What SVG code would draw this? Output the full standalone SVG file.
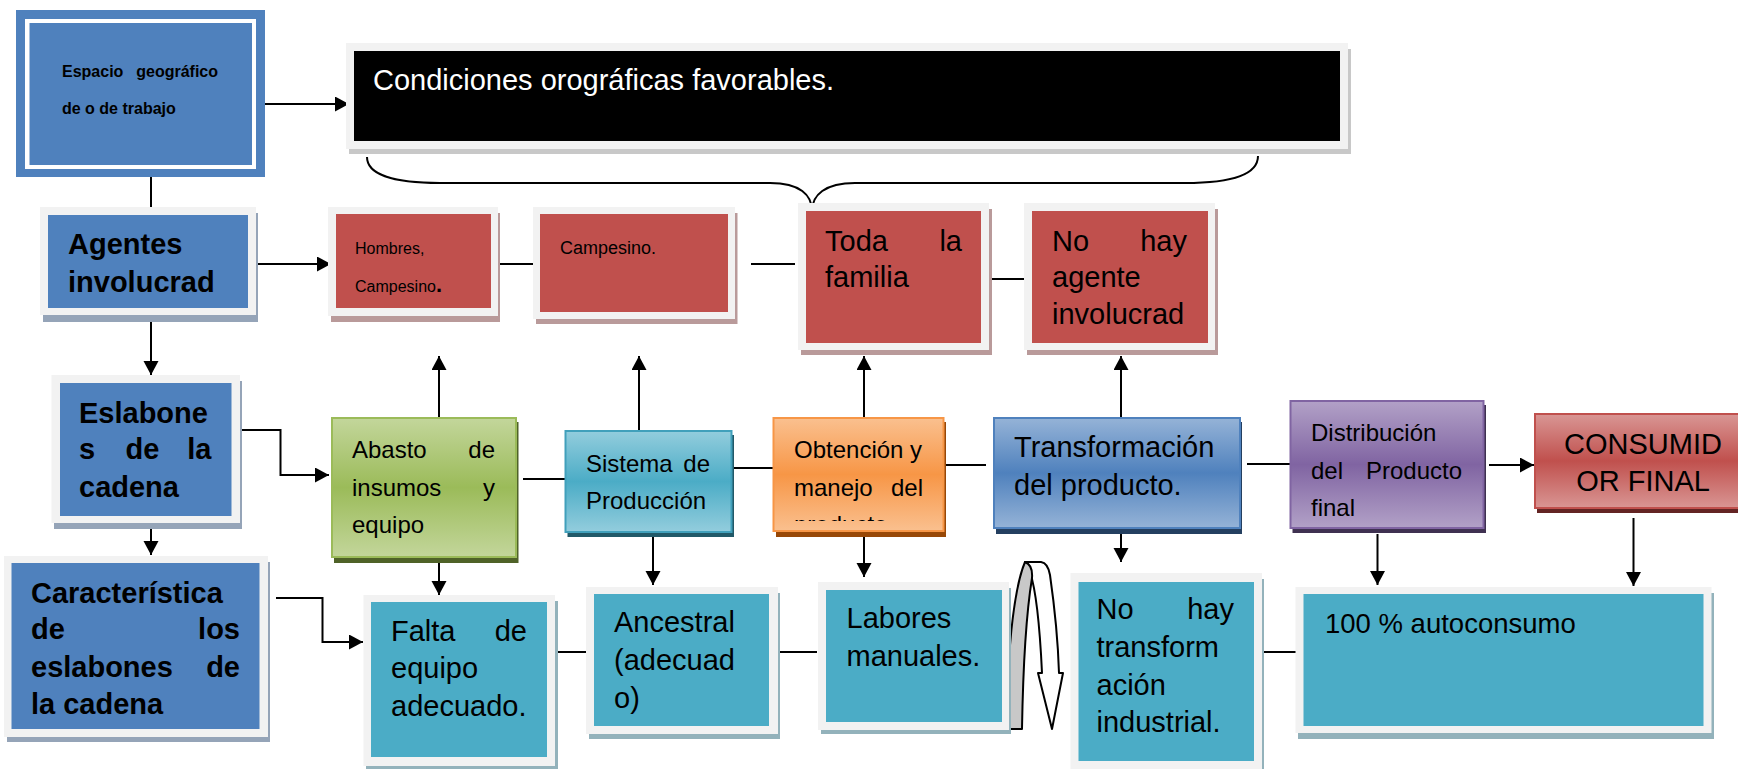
<svg xmlns="http://www.w3.org/2000/svg" width="1738" height="769" viewBox="0 0 1738 769">
<style>
.t{font-family:"Liberation Sans",Arial,sans-serif;fill:#000}
.b{font-weight:bold}
.s29{font-size:29px}
.s24{font-size:24px}
.fr{fill:#f2f2f2}
.shR{fill:#b99a9a}
.shB{fill:#95a4b8}
.shT{fill:#93b2bb}
.red{fill:#c0504d}
.blu{fill:#4f81bd}
.teal{fill:#4bacc6}
.ln{stroke:#000;stroke-width:2;fill:none}
.arr{marker-end:url(#ah)}
.end{text-anchor:end}
</style>
<defs>
<marker id="ah" markerUnits="userSpaceOnUse" markerWidth="16" markerHeight="16" refX="14" refY="7.5" orient="auto"><path d="M0,0 L14,7.5 L0,15 Z" fill="#000"/></marker>
<linearGradient id="gG" x1="0" y1="0" x2="0" y2="1"><stop offset="0" stop-color="#c3d69b"/><stop offset="0.5" stop-color="#9bbb59"/><stop offset="1" stop-color="#c3d69b"/></linearGradient>
<linearGradient id="gT" x1="0" y1="0" x2="0" y2="1"><stop offset="0" stop-color="#93cddd"/><stop offset="0.5" stop-color="#4bacc6"/><stop offset="1" stop-color="#93cddd"/></linearGradient>
<linearGradient id="gO" x1="0" y1="0" x2="0" y2="1"><stop offset="0" stop-color="#fac08f"/><stop offset="0.5" stop-color="#f79646"/><stop offset="1" stop-color="#fac08f"/></linearGradient>
<linearGradient id="gB" x1="0" y1="0" x2="0" y2="1"><stop offset="0" stop-color="#95b3d7"/><stop offset="0.5" stop-color="#4f81bd"/><stop offset="1" stop-color="#95b3d7"/></linearGradient>
<linearGradient id="gP" x1="0" y1="0" x2="0" y2="1"><stop offset="0" stop-color="#b2a1c7"/><stop offset="0.5" stop-color="#8064a2"/><stop offset="1" stop-color="#b2a1c7"/></linearGradient>
<linearGradient id="gR" x1="0" y1="0" x2="0" y2="1"><stop offset="0" stop-color="#d99694"/><stop offset="0.5" stop-color="#c0504d"/><stop offset="1" stop-color="#d99694"/></linearGradient>
<clipPath id="clipObt"><rect x="773" y="417" width="172" height="104"/></clipPath>
</defs>

<g id="connectors">
<path class="ln arr" d="M262,104 L349,104"/>
<path class="ln" d="M151,177 L151,207"/>
<path class="ln arr" d="M251,264 L331,264"/>
<path class="ln" d="M493,264 L537,264"/>
<path class="ln" d="M751,264 L795,264"/>
<path class="ln" d="M985,279 L1028,279"/>
<path class="ln arr" d="M151,320 L151,375"/>
<path class="ln arr" d="M235,430 L280.5,430 L280.5,475 L329,475"/>
<path class="ln arr" d="M151,512 L151,555"/>
<path class="ln arr" d="M276,598 L322.5,598 L322.5,642 L363,642"/>
<path class="ln arr" d="M439,417 L439,356"/>
<path class="ln arr" d="M439,563 L439,595"/>
<path class="ln" d="M523,479 L565,479"/>
<path class="ln arr" d="M639,430 L639,356"/>
<path class="ln" d="M734,468 L773,468"/>
<path class="ln arr" d="M864,417 L864,356"/>
<path class="ln" d="M946,465 L986,465"/>
<path class="ln arr" d="M1121,417 L1121,356"/>
<path class="ln arr" d="M1121,522 L1121,562"/>
<path class="ln" d="M1247,464 L1290,464"/>
<path class="ln arr" d="M1489,465 L1534,465"/>
<path class="ln arr" d="M1377.5,534 L1377.5,585"/>
<path class="ln arr" d="M1633.5,518 L1633.5,586"/>
<path class="ln arr" d="M653,537 L653,585"/>
<path class="ln arr" d="M864,537 L864,577"/>
<path class="ln" d="M547,652 L590,652"/>
<path class="ln" d="M773,652 L817,652"/>
<path class="ln" d="M1257.5,652 L1300,652"/>
<path class="ln" d="M367,157 C367,175 395,183 440,183 L770,183 C800,183 812,195 812,211 C812,195 825,183 855,183 L1185,183 C1230,183 1258,175 1258,156"/>
<g id="uturn">
<path d="M1025,562 L1041,562 Q1048,563 1050,575 C1055,610 1058,640 1059,673 L1063,673 L1052,729 L1038,673 L1042,673 C1040,630 1036,590 1030,572 Z" fill="#fff" stroke="#000" stroke-width="2" stroke-linejoin="round"/>
<path d="M1006,729 C1007,660 1013,590 1025,562 Q1033,565 1032,578 C1026,615 1023,670 1022,729 Z" fill="#c8c8c8" stroke="#000" stroke-width="2" stroke-linejoin="round"/>
</g>
</g>

<g id="espacio">
<rect x="16" y="10" width="249" height="167" fill="#4f81bd"/>
<rect x="25" y="19" width="231" height="150" fill="#fff"/>
<rect x="29.5" y="23" width="222.5" height="142" fill="#4f81bd"/>
<text class="t b" font-size="16" x="62" y="77">Espacio</text>
<text class="t b end" font-size="16" x="218" y="77">geográfico</text>
<text class="t b" font-size="16" x="62" y="114">de o de trabajo</text>
</g>

<g id="condiciones">
<rect x="349" y="49" width="1002" height="105" fill="#c8c8c8"/>
<rect class="fr" x="346" y="43" width="1002" height="106"/>
<rect x="354" y="51" width="986" height="90" fill="#000"/>
<text class="t s29" x="373" y="90" style="fill:#fff">Condiciones orográficas favorables.</text>
</g>

<g id="agentes">
<rect class="shB" x="43" y="213" width="215" height="109"/>
<rect class="fr" x="40" y="207" width="216" height="108"/>
<rect class="blu" x="48" y="215" width="200" height="93"/>
<text class="t b s29" x="68" y="254">Agentes</text>
<text class="t b s29" x="68" y="292">involucrad</text>
</g>

<g id="hombres">
<rect class="shR" x="331" y="213" width="169" height="109"/>
<rect class="fr" x="328" y="207" width="170" height="109"/>
<rect class="red" x="336" y="214" width="155" height="94"/>
<text class="t" font-size="16" x="355" y="254">Hombres,</text>
<text class="t" font-size="16" x="355" y="292">Campesino<tspan font-size="22" font-weight="bold">.</tspan></text>
</g>

<g id="campesino">
<rect class="shR" x="536" y="213" width="201.5" height="111"/>
<rect class="fr" x="533" y="207" width="202" height="112"/>
<rect class="red" x="540" y="214" width="188" height="98"/>
<text class="t" font-size="18" x="560" y="254">Campesino.</text>
</g>

<g id="toda">
<rect class="shR" x="801" y="209" width="191" height="146"/>
<rect class="fr" x="798" y="203" width="191" height="147"/>
<rect class="red" x="806" y="211" width="175" height="132"/>
<text class="t s29" x="825" y="251">Toda</text>
<text class="t s29 end" x="962" y="251">la</text>
<text class="t s29" x="825" y="287">familia</text>
</g>

<g id="nohay">
<rect class="shR" x="1027" y="209" width="191" height="146"/>
<rect class="fr" x="1024" y="203" width="191" height="147"/>
<rect class="red" x="1032" y="211" width="176" height="132"/>
<text class="t s29" x="1052" y="251">No</text>
<text class="t s29 end" x="1187" y="251">hay</text>
<text class="t s29" x="1052" y="287">agente</text>
<text class="t s29" x="1052" y="324">involucrad</text>
</g>

<g id="eslabones">
<rect class="shB" x="54" y="381" width="188" height="148"/>
<rect class="fr" x="51.5" y="375" width="188.5" height="148"/>
<rect class="blu" x="60" y="383" width="171.5" height="133"/>
<text class="t b s29" x="79" y="423">Eslabone</text>
<text class="t b s29" x="79" y="459">s</text>
<text class="t b s29" x="125.5" y="459">de</text>
<text class="t b s29 end" x="211.5" y="459">la</text>
<text class="t b s29" x="79" y="497">cadena</text>
</g>

<g id="caracteristica">
<rect class="shB" x="7" y="562" width="263" height="180"/>
<rect class="fr" x="4" y="556" width="264" height="181"/>
<rect class="blu" x="11.5" y="563" width="248" height="166"/>
<text class="t b s29" x="31" y="603">Característica</text>
<text class="t b s29" x="31" y="639">de</text>
<text class="t b s29 end" x="240" y="639">los</text>
<text class="t b s29" x="31" y="677">eslabones</text>
<text class="t b s29 end" x="240" y="677">de</text>
<text class="t b s29" x="31" y="714">la cadena</text>
</g>

<g id="abasto">
<rect x="334" y="422" width="184.5" height="141" fill="#4f6228"/>
<rect x="332" y="418" width="184" height="139" fill="url(#gG)" stroke="#9bbb59" stroke-width="2"/>
<text class="t s24" x="352" y="458">Abasto</text>
<text class="t s24 end" x="495" y="458">de</text>
<text class="t s24" x="352" y="496">insumos</text>
<text class="t s24 end" x="495" y="496">y</text>
<text class="t s24" x="352" y="533">equipo</text>
</g>

<g id="sistema">
<rect x="567.5" y="435" width="166.5" height="102" fill="#215968"/>
<rect x="565.5" y="431" width="166" height="101" fill="url(#gT)" stroke="#41a0bb" stroke-width="2"/>
<text class="t s24" x="586" y="472">Sistema</text>
<text class="t s24 end" x="710" y="472">de</text>
<text class="t s24" x="586" y="509">Producción</text>
</g>

<g id="obtencion">
<rect x="776" y="422" width="170" height="115" fill="#984807"/>
<rect x="773.5" y="418" width="170" height="113" fill="url(#gO)" stroke="#f79646" stroke-width="2"/>
<text class="t s24" x="794" y="458">Obtención y</text>
<text class="t s24" x="794" y="496">manejo</text>
<text class="t s24 end" x="923" y="496">del</text>
<text class="t s24" x="794" y="533" clip-path="url(#clipObt)">producto</text>
</g>

<g id="transformacion">
<rect x="996" y="422" width="246" height="112" fill="#243f60"/>
<rect x="994" y="418" width="246" height="110" fill="url(#gB)" stroke="#4f81bd" stroke-width="2"/>
<text class="t s29" x="1014" y="457">Transformación</text>
<text class="t s29" x="1014" y="495">del producto.</text>
</g>

<g id="distribucion">
<rect x="1292.5" y="405" width="193.5" height="128" fill="#3f3151"/>
<rect x="1290.5" y="401" width="193" height="127" fill="url(#gP)" stroke="#8064a2" stroke-width="2"/>
<text class="t s24" x="1311" y="441">Distribución</text>
<text class="t s24" x="1311" y="479">del</text>
<text class="t s24 end" x="1462" y="479">Producto</text>
<text class="t s24" x="1311" y="516">final</text>
</g>

<g id="consumidor">
<rect x="1537" y="418" width="210" height="95" fill="#632423"/>
<rect x="1535" y="414" width="215" height="94" fill="url(#gR)" stroke="#c0504d" stroke-width="2"/>
<text class="t s29" x="1643" y="454" text-anchor="middle">CONSUMID</text>
<text class="t s29" x="1643" y="491" text-anchor="middle">OR FINAL</text>
</g>

<g id="falta">
<rect class="shT" x="366" y="601" width="192" height="172"/>
<rect class="fr" x="363.5" y="595" width="191.5" height="171"/>
<rect class="teal" x="371" y="602" width="176" height="155"/>
<text class="t s29" x="391" y="641">Falta</text>
<text class="t s29 end" x="527" y="641">de</text>
<text class="t s29" x="391" y="678">equipo</text>
<text class="t s29" x="391" y="716">adecuado.</text>
</g>

<g id="ancestral">
<rect class="shT" x="589" y="593" width="191" height="146"/>
<rect class="fr" x="586" y="587" width="192" height="147"/>
<rect class="teal" x="594" y="594" width="175" height="132"/>
<text class="t s29" x="614" y="632">Ancestral</text>
<text class="t s29" x="614" y="670">(adecuad</text>
<text class="t s29" x="614" y="708">o)</text>
</g>

<g id="labores">
<rect class="shT" x="821" y="588" width="190" height="146"/>
<rect class="fr" x="818" y="582" width="191" height="148"/>
<rect class="teal" x="826" y="590" width="176" height="132"/>
<text class="t s29" x="846.5" y="628">Labores</text>
<text class="t s29" x="846.5" y="666">manuales.</text>
</g>

<g id="notransformacion">
<rect class="shT" x="1073" y="579" width="191" height="195"/>
<rect class="fr" x="1070.5" y="573" width="191.5" height="196"/>
<rect class="teal" x="1078.5" y="582" width="175.5" height="179"/>
<text class="t s29" x="1096.5" y="619">No</text>
<text class="t s29 end" x="1234" y="619">hay</text>
<text class="t s29" x="1096.5" y="657">transform</text>
<text class="t s29" x="1096.5" y="695">ación</text>
<text class="t s29" x="1096.5" y="732">industrial.</text>
</g>

<g id="autoconsumo">
<rect class="shT" x="1298" y="593" width="416" height="146"/>
<rect class="fr" x="1295.5" y="587" width="416" height="146"/>
<rect class="teal" x="1303.5" y="594" width="400" height="132"/>
<text class="t" font-size="27.5" x="1325" y="633">100 % autoconsumo</text>
</g>
</svg>
